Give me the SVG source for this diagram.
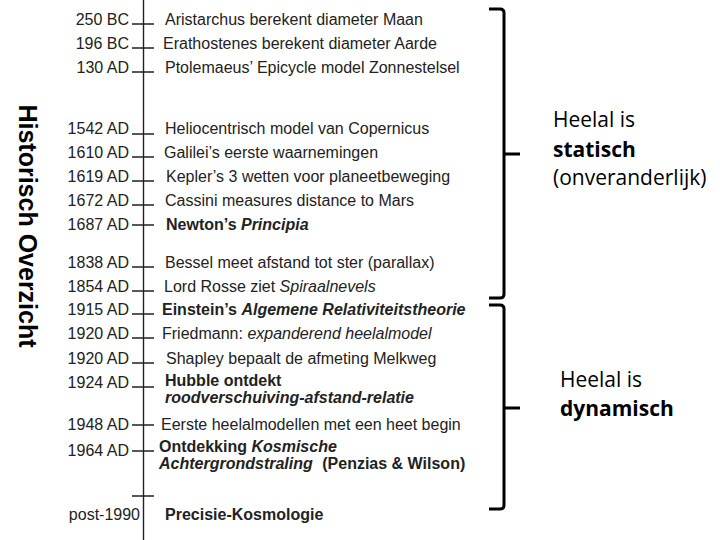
<svg xmlns="http://www.w3.org/2000/svg" width="720" height="540" viewBox="0 0 720 540">
<style>
.d{font-family:"Liberation Sans",Arial,sans-serif;font-size:16px;fill:#222;text-anchor:end}
.e{font-family:"Liberation Sans",Arial,sans-serif;font-size:16px;fill:#222}
.b{font-weight:bold}
.i{font-style:italic}
.tk{stroke:#222;stroke-width:1.4;fill:none}
.br{stroke:#000;stroke-width:3;fill:none}
.r{font-family:"Open Sans","Noto Sans",sans-serif;font-size:21px;fill:#000}
</style>
<rect width="720" height="540" fill="#fff"/>
<g id="title"><text transform="translate(19,226) rotate(90)" font-family="Liberation Sans,Arial,sans-serif" font-size="25" font-weight="bold" text-anchor="middle" fill="#000">Historisch Overzicht</text></g>
<g id="connectors">
<line class="tk" x1="143.5" y1="0" x2="143.5" y2="540"/>
<path class="tk" d="M132,24H154M132,48H154M132,72H154M132,134H154M132,157H154M132,181H154M132,205H154M132,225H154M132,267H154M132,291H154M132,314H154M132,338H154M132,363H154M132,387H154M132,425H154M132,451H154M132,496H154"/>
<path class="br" d="M489,9H500Q504,9 504,13V294Q504,298 500,298H489M504,154H520"/>
<path class="br" d="M489,305H500Q504,305 504,309V505Q504,509 500,509H489M504,408H520"/>
</g>
<g id="dates">
<text class="d" x="129" y="25">250 BC</text>
<text class="d" x="129" y="49">196 BC</text>
<text class="d" x="129" y="73">130 AD</text>
<text class="d" x="129" y="134">1542 AD</text>
<text class="d" x="129" y="158">1610 AD</text>
<text class="d" x="129" y="182">1619 AD</text>
<text class="d" x="129" y="206">1672 AD</text>
<text class="d" x="129" y="230">1687 AD</text>
<text class="d" x="129" y="268">1838 AD</text>
<text class="d" x="129" y="292">1854 AD</text>
<text class="d" x="129" y="315">1915 AD</text>
<text class="d" x="129" y="339">1920 AD</text>
<text class="d" x="129" y="364">1920 AD</text>
<text class="d" x="129" y="388">1924 AD</text>
<text class="d" x="129" y="430">1948 AD</text>
<text class="d" x="129" y="456">1964 AD</text>
<text class="d" x="140" y="520">post-1990</text>
</g>
<g id="events">
<text class="e" x="165" y="25">Aristarchus berekent diameter Maan</text>
<text class="e" x="163" y="49">Erathostenes berekent diameter Aarde</text>
<text class="e" x="165" y="73">Ptolemaeus’ Epicycle model Zonnestelsel</text>
<text class="e" x="165" y="134">Heliocentrisch model van Copernicus</text>
<text class="e" x="164" y="158">Galilei’s eerste waarnemingen</text>
<text class="e" x="166" y="182">Kepler’s 3 wetten voor planeetbeweging</text>
<text class="e" x="165" y="206">Cassini measures distance to Mars</text>
<text class="e b" x="166" y="230">Newton’s <tspan class="i">Principia</tspan></text>
<text class="e" x="165" y="268">Bessel meet afstand tot ster (parallax)</text>
<text class="e" x="164" y="292">Lord Rosse ziet <tspan class="i">Spiraalnevels</tspan></text>
<text class="e b" x="162" y="315">Einstein’s <tspan class="i">Algemene Relativiteitstheorie</tspan></text>
<text class="e" x="162" y="339">Friedmann: <tspan class="i">expanderend heelalmodel</tspan></text>
<text class="e" x="166" y="364">Shapley bepaalt de afmeting Melkweg</text>
<text class="e b" x="165" y="386">Hubble ontdekt</text>
<text class="e b i" x="165" y="403">roodverschuiving-afstand-relatie</text>
<text class="e" x="161" y="430">Eerste heelalmodellen met een heet begin</text>
<text class="e b" x="159" y="452">Ontdekking <tspan class="i">Kosmische</tspan></text>
<text class="e b" x="159" y="469"><tspan class="i">Achtergrondstraling</tspan><tspan dx="5"> (Penzias &amp; Wilson)</tspan></text>
<text class="e b" x="165" y="520">Precisie-Kosmologie</text>
</g>
<g id="static">
<text class="r" x="553" y="127">Heelal is</text>
<text class="r b" x="553" y="157">statisch</text>
<text class="r" x="553" y="185">(onveranderlijk)</text>
</g>
<g id="dynamic">
<text class="r" x="560" y="387">Heelal is</text>
<text class="r b" x="560" y="416">dynamisch</text>
</g>
</svg>
